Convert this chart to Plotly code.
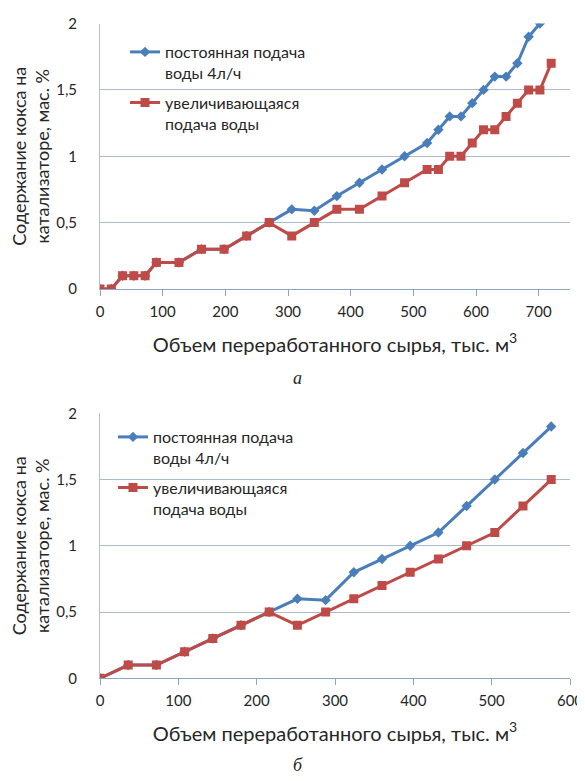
import plotly.graph_objects as go

# ---- Chart a ----
a_x_red = [0, 18, 36, 54, 72, 90, 126, 162, 198, 234, 270, 306, 342, 378, 414, 450,
           486, 522, 540, 558, 576, 594, 612, 630, 648, 666, 684, 702, 720]
a_y_red = [0, 0, 0.1, 0.1, 0.1, 0.2, 0.2, 0.3, 0.3, 0.4, 0.5, 0.4, 0.5, 0.6, 0.6, 0.7,
           0.8, 0.9, 0.9, 1.0, 1.0, 1.1, 1.2, 1.2, 1.3, 1.4, 1.5, 1.5, 1.7]
a_x_blue = [0, 18, 36, 54, 72, 90, 126, 162, 198, 234, 270, 306, 342, 378, 414, 450,
            486, 522, 540, 558, 576, 594, 612, 630, 648, 666, 684, 702]
a_y_blue = [0, 0, 0.1, 0.1, 0.1, 0.2, 0.2, 0.3, 0.3, 0.4, 0.5, 0.6, 0.59, 0.7, 0.8, 0.9,
            1.0, 1.1, 1.2, 1.3, 1.3, 1.4, 1.5, 1.6, 1.6, 1.7, 1.9, 2.0]

# ---- Chart б ----
b_x = [0, 36, 72, 108, 144, 180, 216, 252, 288, 324, 360, 396, 432, 468, 504, 540, 576]
b_y_red = [0, 0.1, 0.1, 0.2, 0.3, 0.4, 0.5, 0.4, 0.5, 0.6, 0.7, 0.8, 0.9, 1.0, 1.1, 1.3, 1.5]
b_y_blue = [0, 0.1, 0.1, 0.2, 0.3, 0.4, 0.5, 0.6, 0.59, 0.8, 0.9, 1.0, 1.1, 1.3, 1.5, 1.7, 1.9]

name_blue = "постоянная подача<br>воды 4л/ч"
name_red = "увеличивающаяся<br>подача воды"
y_title = "Содержание кокса на<br>катализаторе, мас. %"
x_title = "Объем переработанного сырья, тыс. м<sup>3</sup>"
y_ticks = [0, 0.5, 1, 1.5, 2]

BLUE = "#4A7EBB"
RED = "#BE4B48"
FONT = "Lato"
TXT = "#262626"

fig = go.Figure()
fig.add_trace(go.Scatter(x=a_x_blue, y=a_y_blue, name=name_blue, mode="lines+markers",
                         line=dict(color=BLUE, width=3), legendgroup="a1",
                         marker=dict(symbol="diamond", size=8, color=BLUE),
                         xaxis="x", yaxis="y", legend="legend"))
fig.add_trace(go.Scatter(x=a_x_red, y=a_y_red, name=name_red, mode="lines+markers",
                         line=dict(color=RED, width=3), legendgroup="a2",
                         marker=dict(symbol="square", size=9, color=RED),
                         xaxis="x", yaxis="y", legend="legend"))
fig.add_trace(go.Scatter(x=b_x, y=b_y_blue, name=name_blue, mode="lines+markers",
                         line=dict(color=BLUE, width=3), legendgroup="b1",
                         marker=dict(symbol="diamond", size=8, color=BLUE),
                         xaxis="x2", yaxis="y2", legend="legend2"))
fig.add_trace(go.Scatter(x=b_x, y=b_y_red, name=name_red, mode="lines+markers",
                         line=dict(color=RED, width=3), legendgroup="b2",
                         marker=dict(symbol="square", size=9, color=RED),
                         xaxis="x2", yaxis="y2", legend="legend2"))

# page body has an 8px margin: figure coordinates = screen - 8
OFF = 8
W, H = 585 - OFF, 781 - OFF


def px(s):
    return (s - OFF) / W


def py(s):
    return 1 - (s - OFF) / H


xdom = [px(100), px(570)]
ydom_a = [py(289), py(23.5)]
ydom_b = [py(678.3), py(413.3)]

xcommon = dict(showgrid=False, zeroline=False, showline=True, linecolor="#8CA5C0",
               linewidth=1, ticks="outside", ticklen=6, tickcolor="#8CA5C0",
               tickfont=dict(family=FONT, size=15, color=TXT), dtick=100,
               ticklabelstandoff=3, automargin=False,
               title_font=dict(family=FONT, size=20, color=TXT), title_standoff=18)
ycommon = dict(range=[0, 2], tickvals=y_ticks, showgrid=True, gridcolor="#A9BCCF",
               gridwidth=1, zeroline=False, showline=True, linecolor="#BFBFBF",
               ticks="", tickfont=dict(family=FONT, size=15, color=TXT),
               ticklabelstandoff=19, automargin=False,
               title_font=dict(family=FONT, size=18, color=TXT), title_standoff=2)

fig.update_layout(
    width=W, height=H,
    margin=dict(l=0, r=0, t=0, b=0),
    paper_bgcolor="white", plot_bgcolor="white",
    separators=", ",
    font=dict(family=FONT, color=TXT),
    xaxis=dict(domain=xdom, range=[0, 750], anchor="y", title_text=x_title, **xcommon),
    yaxis=dict(domain=ydom_a, anchor="x", title_text=y_title, **ycommon),
    xaxis2=dict(domain=xdom, range=[0, 600], anchor="y2", title_text=x_title, **xcommon),
    yaxis2=dict(domain=ydom_b, anchor="x2", title_text=y_title, **ycommon),
    legend=dict(x=px(125), y=py(35), xanchor="left", yanchor="top",
                valign="top", bgcolor="rgba(0,0,0,0)",
                font=dict(family=FONT, size=16, color=TXT), itemwidth=30,
                tracegroupgap=6),
    legend2=dict(x=px(113), y=py(420), xanchor="left", yanchor="top",
                 valign="top", bgcolor="rgba(0,0,0,0)",
                 font=dict(family=FONT, size=16, color=TXT), itemwidth=30,
                 tracegroupgap=6),
    annotations=[
        dict(text="<i>a</i>", x=px(297), y=py(378), xref="paper", yref="paper",
             xanchor="center", yanchor="middle", showarrow=False,
             font=dict(family="Liberation Serif", size=18, color=TXT)),
        dict(text="<i>б</i>", x=px(298), y=py(765), xref="paper", yref="paper",
             xanchor="center", yanchor="middle", showarrow=False,
             font=dict(family="Liberation Serif", size=18, color=TXT)),
    ],
)

fig.write_html("out.html")
